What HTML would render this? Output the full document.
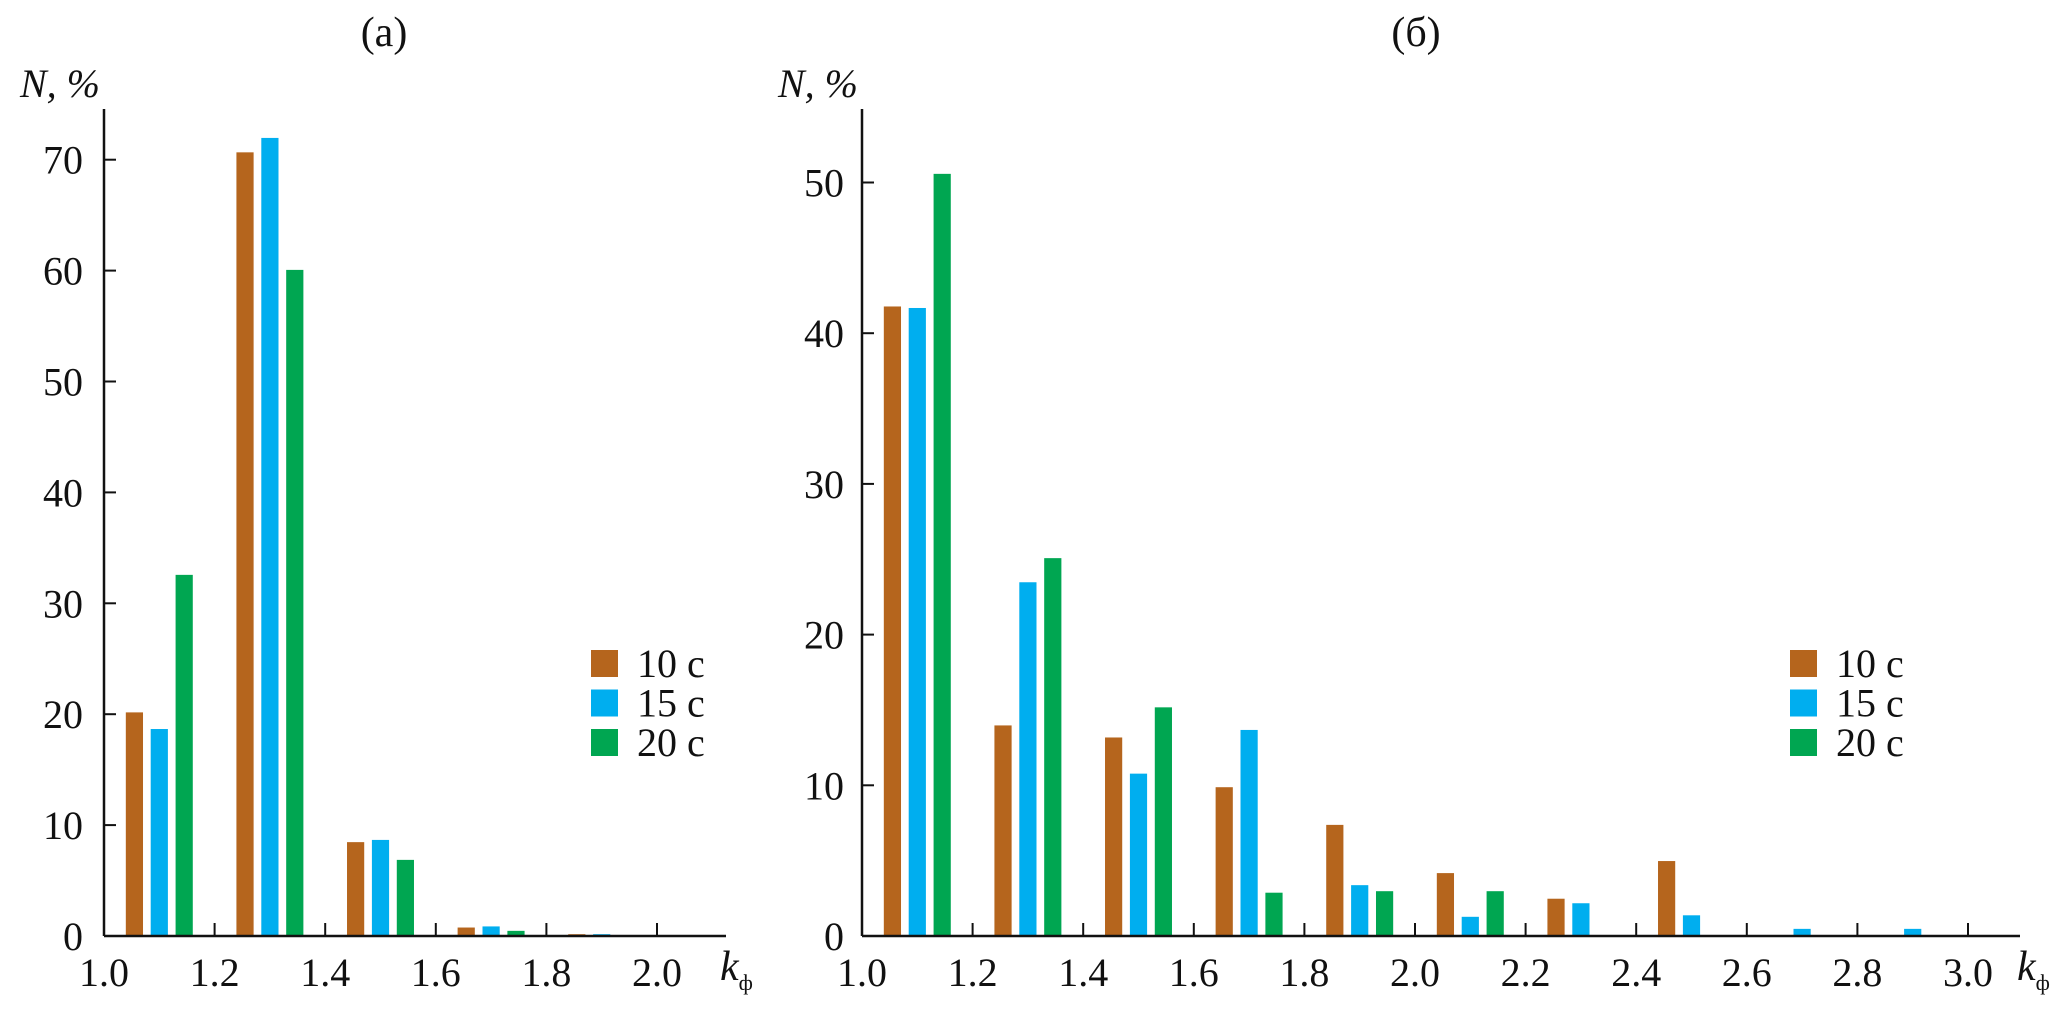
<!DOCTYPE html>
<html><head><meta charset="utf-8"><style>
html,body{margin:0;padding:0;background:#fff}
svg{display:block}
text{font-family:"Liberation Serif",serif;fill:#111}
</style></head><body>
<svg id="chart" width="2067" height="1015" viewBox="0 0 2067 1015" xmlns="http://www.w3.org/2000/svg"></svg>
<script>
const seriesNames = ["10 c","15 c","20 c"];
const colors = ["#b5651d","#00aeef","#00a651"];
const catsA = [1.1,1.3,1.5,1.7,1.9];
const a10 = [20.2,70.7,8.5,0.8,0.2];
const a15 = [18.7,72.0,8.7,0.9,0.2];
const a20 = [32.6,60.1,6.9,0.5,0];
const xTicksA = ["1.0","1.2","1.4","1.6","1.8","2.0"];
const yTicksA = [0,10,20,30,40,50,60,70];
const catsB = [1.1,1.3,1.5,1.7,1.9,2.1,2.3,2.5,2.7,2.9];
const b10 = [41.8,14.0,13.2,9.9,7.4,4.2,2.5,5.0,0,0];
const b15 = [41.7,23.5,10.8,13.7,3.4,1.3,2.2,1.4,0.5,0.5];
const b20 = [50.6,25.1,15.2,2.9,3.0,3.0,0,0,0,0];
const xTicksB = ["1.0","1.2","1.4","1.6","1.8","2.0","2.2","2.4","2.6","2.8","3.0"];
const yTicksB = [0,10,20,30,40,50];

const NS="http://www.w3.org/2000/svg";
const svg=document.getElementById('chart');
function mk(tag,attrs,parent,txt){const e=document.createElementNS(NS,tag);for(const k in attrs)e.setAttribute(k,attrs[k]);if(txt!==undefined)e.textContent=txt;(parent||svg).appendChild(e);return e;}

function drawPanel(cfg){
  const g=mk('g',{});
  
  
  const x=v=>cfg.x0+(v-1.0)*553;
  const y=v=>cfg.y0-v*cfg.yPer;
  const series=cfg.series;
  cfg.cats.forEach((c,i)=>{
    series.forEach((s,j)=>{
      const v=s[i]; if(v<=0) return;
      const cx=x(c+(j-1)*0.045);
      const r=mk('rect',{x:cx-9,y:y(v),width:18,height:cfg.y0-y(v),fill:colors[j],stroke:'#fff','stroke-width':0.8},g);
      
      
    });
  });
  const ya=mk('line',{x1:cfg.x0,y1:109,x2:cfg.x0,y2:cfg.y0,stroke:'#111','stroke-width':2.5},g);
  
  const xa=mk('line',{x1:cfg.x0,y1:cfg.y0,x2:cfg.xEnd,y2:cfg.y0,stroke:'#111','stroke-width':2.5},g);
  
  cfg.yTicks.forEach(t=>{
    const yy=y(t);
    if(t>0) mk('line',{x1:cfg.x0,y1:yy,x2:cfg.x0+12,y2:yy,stroke:'#111','stroke-width':2},g);
    const l=mk('text',{x:cfg.x0-cfg.ygap,y:yy+14,'font-size':40,'text-anchor':'end'},g,String(t));
    
  });
  cfg.xTicks.forEach(t=>{
    const xx=x(parseFloat(t));
    mk('line',{x1:xx,y1:cfg.y0,x2:xx,y2:cfg.y0-13,stroke:'#111','stroke-width':2},g);
    const l=mk('text',{x:xx,y:986,'font-size':40,'text-anchor':'middle'},g,t);
    
  });
  const t=mk('text',{x:cfg.titleX,y:46,'font-size':42,'text-anchor':'middle'},g,cfg.title);
  
  const yt=mk('text',{x:cfg.yLabelX,y:97,'font-size':40,'font-style':'italic'},g,'N, %');
  
  const xt=mk('text',{x:cfg.kX,y:980,'font-size':42,'font-style':'italic'},g,'k');
  
  mk('tspan',{'font-size':22,'font-style':'normal',dy:10},xt,'ф');
  seriesNames.forEach((n,j)=>{
    const yy=650+j*39.5;
    const sw=mk('rect',{x:cfg.legX,y:yy,width:27,height:27,fill:colors[j]},g);
    
    const lt=mk('text',{x:cfg.legX+46,y:yy+27,'font-size':40},g,n);
    
  });
}
drawPanel({name:'panel-a',x0:104,y0:936,yPer:11.09,xEnd:726,cats:catsA,series:[a10,a15,a20],xTicks:xTicksA,yTicks:yTicksA,ygap:21,title:'(a)',titleX:384,yLabelX:20,kX:720,legX:591});
drawPanel({name:'panel-b',x0:862,y0:936,yPer:15.07,xEnd:2020,cats:catsB,series:[b10,b15,b20],xTicks:xTicksB,yTicks:yTicksB,ygap:18,title:'(б)',titleX:1416,yLabelX:778,kX:2017,legX:1790});
</script>
</body></html>
